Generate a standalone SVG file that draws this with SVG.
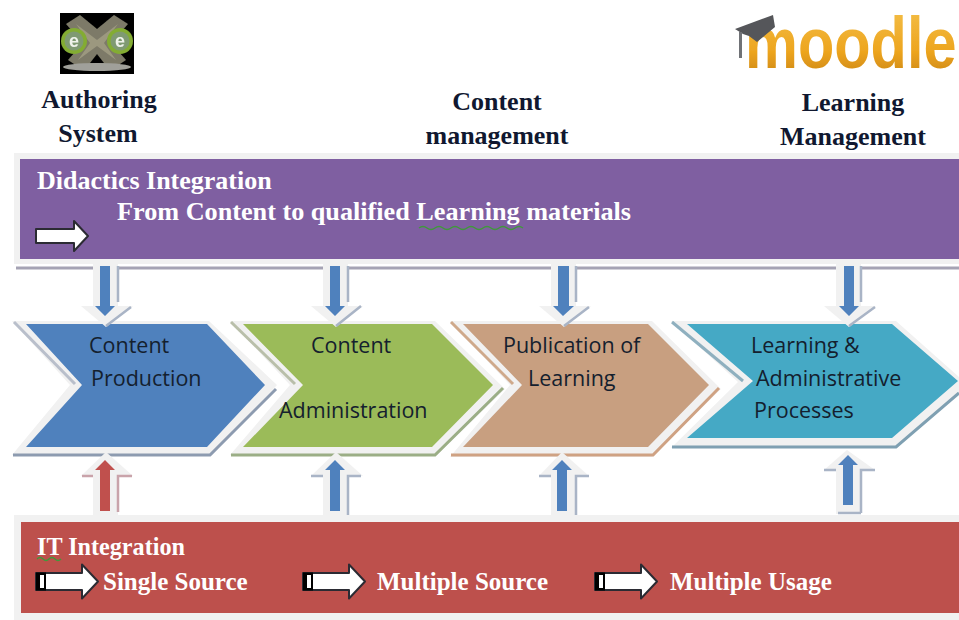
<svg xmlns="http://www.w3.org/2000/svg" width="959" height="620" viewBox="0 0 959 620">
<defs>
<filter id="b" x="-5%" y="-5%" width="110%" height="110%"><feGaussianBlur stdDeviation="0.6"/></filter>
<linearGradient id="mo" x1="0" y1="0" x2="0" y2="1"><stop offset="0" stop-color="#f4c04a"/><stop offset="0.6" stop-color="#eda51f"/><stop offset="1" stop-color="#c47f12"/></linearGradient>
<g id="wr"><path d="M0 -7H38V-15L52 0L38 15V7H0Z" fill="#fff" stroke="#2b2b33" stroke-width="2" stroke-linejoin="round"/></g>
<g id="wrs"><path d="M0 -8.5H46V-17L62 0L46 17V8.5H0Z" fill="#fff" stroke="#2b2b33" stroke-width="2" stroke-linejoin="round"/><rect x="0" y="-9" width="10" height="18" fill="#000"/><rect x="4" y="-6.5" width="4" height="13" fill="#fff"/></g>
</defs>
<style>
.h{font:700 26px "Liberation Serif",serif;fill:#101830;text-anchor:middle}
.w{font:700 26px "Liberation Serif",serif;fill:#fff}
.w2{font:700 25px "Liberation Serif",serif;fill:#fff}
.c{font:21.5px "Open Sans","Noto Sans",sans-serif;fill:#14202e}
.halo{fill:#f1f1f1}
.sh{fill:none;stroke-width:3}
</style>
<rect width="959" height="620" fill="#fff"/>

<g id="node-exe" filter="url(#b)">
<rect x="60" y="13" width="74" height="61" fill="#050505"/>
<path d="M66 24L80 15L97 29L114 15L128 24L111 43L126 60L114 68H80L68 60L83 43Z" fill="#7d7a68"/>
<path d="M76 24L97 40L118 24L104 43L116 60L97 46L78 60L90 43Z" fill="#9c987f"/>
<path d="M90 63L97 54L104 63Z" fill="#050505"/>
<ellipse cx="97" cy="67" rx="34" ry="4" fill="#a0a09a"/>
<circle cx="74" cy="41" r="13" fill="#83ac33"/><circle cx="120" cy="41" r="13" fill="#83ac33"/>
<circle cx="74" cy="41" r="9.5" fill="#7f9a72"/><circle cx="120" cy="41" r="9.5" fill="#7f9a72"/>
<text x="74" y="47" font-family="Liberation Sans,sans-serif" font-weight="700" font-size="18" fill="#eef2ea" text-anchor="middle">e</text>
<text x="120" y="47" font-family="Liberation Sans,sans-serif" font-weight="700" font-size="18" fill="#eef2ea" text-anchor="middle">e</text>
</g>

<g id="node-moodle">
<text transform="translate(745 68) scale(1 1.2)" font-family="Liberation Sans,sans-serif" font-weight="700" font-size="59.5" fill="url(#mo)" filter="url(#b)">moodle</text>
<path d="M735 29L773 15L775 27L757 42L749 36L743 34Z" fill="#55575a" filter="url(#b)"/>
<path d="M739 32H742V58H739Z" fill="#707276" filter="url(#b)"/>
</g>

<g id="node-heads">
<text class="h" x="99" y="108">Authoring</text>
<text class="h" x="98" y="142">System</text>
<text class="h" x="497" y="110">Content</text>
<text class="h" x="497" y="144">management</text>
<text class="h" x="853" y="111">Learning</text>
<text class="h" x="853" y="145">Management</text>
</g>

<g id="node-didactics">
<rect class="halo" x="14" y="153" width="945" height="111"/>
<rect x="20" y="159" width="939" height="100" fill="#7f5fa1"/>
<path d="M16 268H959" stroke="#a5a3b4" stroke-width="3"/>
<text class="w" x="37" y="189">Didactics Integration</text>
<text class="w" x="117" y="220" textLength="514" lengthAdjust="spacingAndGlyphs">From Content to qualified Learning materials</text>
<path d="M419 228q4 -3 8 0t8 0t8 0t8 0t8 0t8 0t8 0t8 0t8 0t8 0t8 0t8 0t8 0" fill="none" stroke="#3f9a3a" stroke-width="1.4"/>
<use href="#wr" x="36" y="236"/>
</g>

<g id="node-it">
<rect class="halo" x="14" y="515" width="945" height="105"/>
<rect x="21" y="522" width="938" height="91" fill="#bd504c"/>
<text class="w2" x="37" y="555" textLength="148" lengthAdjust="spacingAndGlyphs">IT Integration</text>
<path d="M37 559q3 -3 6 0t6 0t6 0t6 0" fill="none" stroke="#3f9a3a" stroke-width="1.4"/>
<use href="#wrs" x="36" y="581.5"/><text class="w2" x="103" y="590">Single Source</text>
<use href="#wrs" x="303" y="581.5"/><text class="w2" x="377" y="590">Multiple Source</text>
<use href="#wrs" x="595" y="581.5"/><text class="w2" x="670" y="590">Multiple Usage</text>
</g>

<g id="node-production">
<path class="halo" d="M12 321H209L277 385L212 455H12L70 385Z"/>
<path class="sh" stroke="#b9bfcb" d="M14 322L75 384"/>
<path class="sh" stroke="#8d9bb0" d="M276 389L210 455H13"/>
<path d="M26 324H207L265 385L207 447H26L82 385Z" fill="#4f81bd"/>
<text class="c" x="89" y="353">Content</text><text class="c" x="91" y="386">Production</text>
</g>
<g id="node-administration">
<path class="halo" d="M230 321H435L505 389L437 455H230L290 385Z"/>
<path class="sh" stroke="#b9bfaa" d="M231 322L295 384"/>
<path class="sh" stroke="#9bae86" d="M503 388L435 455H231"/>
<path d="M243 324H432L493 385L432 447H243L303 385Z" fill="#9bbb59"/>
<text class="c" x="311" y="353">Content</text><text class="c" x="279" y="418">Administration</text>
</g>
<g id="node-publication">
<path class="halo" d="M450 321H652L721 389L652 457H450L510 385Z"/>
<path class="sh" stroke="#cfa98b" d="M451 322L513 384"/>
<path class="sh" stroke="#cfa283" d="M719 388L653 455H451"/>
<path d="M463 324H648L709 385L648 447H463L522 385Z" fill="#c89f80"/>
<text class="c" x="503" y="353">Publication of</text><text class="c" x="528" y="386">Learning</text>
</g>
<g id="node-processes">
<path class="halo" d="M671 321H896L959 377V392L897 448H671L738 382Z"/>
<path class="sh" stroke="#8fb0bf" d="M672 322L743 381"/>
<path class="sh" stroke="#7fa0b2" d="M959 393L896 447H672"/>
<path d="M687 324H892L958 381L892 438H687L753 381Z" fill="#45a9c5"/>
<text class="c" x="751" y="353">Learning &amp;</text><text class="c" x="756" y="386">Administrative</text><text class="c" x="754" y="418">Processes</text>
</g>

<g id="connectors">
<g fill="#f1f1f1" stroke="none">
<path d="M93 264H118V306H133L106 327L81 306H93Z"/>
<path d="M323 264H348V306H363L336 327L311 306H323Z"/>
<path d="M551 264H576V306H591L564 327L539 306H551Z"/>
<path d="M836 264H861V306H876L849 327L824 306H836Z"/>
<path d="M93 518V476H81L106 452L133 476H118V518Z"/>
<path d="M323 518V476H311L336 452L363 476H348V518Z"/>
<path d="M551 518V476H539L562 452L589 476H576V518Z"/>
<path d="M836 514V470H824L847 450L875 470H861V514Z"/>
</g>
<g fill="none" stroke-width="2.5">
<g stroke="#a9b4c6">
<path d="M118 266V302M131 307L106 326"/><path d="M348 266V302M361 306L336 326"/><path d="M576 266V302M589 307L564 326"/><path d="M861 266V302M875 307L849 326"/>
<path d="M348 515V476H361M323 476H311"/><path d="M576 515V476H589M551 476H539"/><path d="M861 513V470H875M836 470H824M838 513H861"/>
</g>
<path stroke="#c9a3aa" d="M118 512V476H132M93 476H82"/>
</g>
<g stroke="none">
<path fill="#4f81bd" d="M100 266H110V306H115L105 316L95 306H100Z"/>
<path fill="#4f81bd" d="M330 266H340V306H345L335 316L325 306H330Z"/>
<path fill="#4f81bd" d="M558 266H569V306H574L563 316L553 306H558Z"/>
<path fill="#4f81bd" d="M843 505V465H838L848 455L858 465H853V505Z" transform="translate(0 0)"/>
<path fill="#c0504d" d="M100 511V470H95L105 460L115 470H110V511Z"/>
<path fill="#4f81bd" d="M330 511V470H325L335 460L345 470H340V511Z"/>
<path fill="#4f81bd" d="M557 511V470H552L562 460L572 470H567V511Z"/>
<path fill="#4f81bd" d="M844 266H854V306H859L849 316L839 306H844Z"/>
</g>
</g>
</svg>
